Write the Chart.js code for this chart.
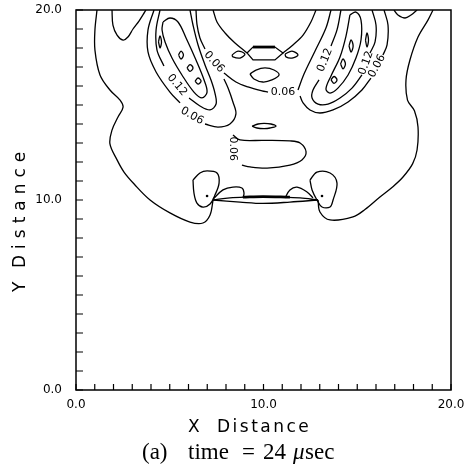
<!DOCTYPE html>
<html>
<head>
<meta charset="utf-8">
<script src="https://cdn.jsdelivr.net/npm/chart.js@4.4.1/dist/chart.umd.min.js"></script>
<style>
  body { margin: 0; background: #fff; }
  canvas { display: block; }
</style>
</head>
<body>
<canvas id="contourChart" width="465" height="476"></canvas>
<script>
// Contour lines, in (x, y) distance units
const outerLeft = [[1.12,20],[1.01,18.95],[1.01,17.89],[1.28,16.58],[1.81,15.79],[2.35,15.26],[2.51,14.89],[2.24,14.37],[1.92,13.68],[1.81,12.95],[2.19,12.11],[2.56,11.47],[3.1,10.84],[3.95,10.0],[5.01,9.32],[6.08,8.84],[6.77,8.79],[7.15,9.21],[7.31,10.0]];
const outerRight = [[12.91,10.0],[13.01,9.37],[13.55,8.95],[14.77,9.11],[15.41,9.5],[16.21,10.16],[16.9,10.7],[17.44,11.21],[17.95,11.9],[18.19,12.63],[18.24,13.84],[18.05,14.7],[17.68,15.26],[17.6,16.32],[17.81,17.37],[18.24,18.58],[18.77,19.47],[19.04,20]];
const lensUpper = [[7.31,10],[8.21,10.11],[9.28,10.16],[9.97,10.18],[10.88,10.16],[11.95,10.11],[12.91,10]];
const lensLower = [[7.31,10],[8.75,9.89],[9.97,9.82],[11.41,9.89],[12.91,10]];
const lensThick = [[8.9,10.15],[9.97,10.18],[11.41,10.15]];
const islandLeft = [[6.24,11.05],[6.61,11.42],[6.99,11.53],[7.52,11.42],[7.63,10.89],[7.41,10.26],[7.15,9.79],[6.77,9.63],[6.45,9.84],[6.29,10.37],[6.24,11.05]];
const capLeft = [[7.31,10.05],[7.84,10.53],[8.37,10.68],[8.85,10.63],[8.96,10.37],[8.91,10.11]];
const islandRight = [[12.48,11.05],[12.85,11.47],[13.55,11.42],[13.92,10.89],[13.71,10.0],[13.55,9.63],[13.12,9.63],[12.85,10.0],[12.59,10.53],[12.48,11.05]];
const capRight = [[11.15,10.11],[11.41,10.53],[11.79,10.68],[12.32,10.42],[12.64,10.11]];
const dots = [[6.99,10.21],[13.12,10.21]];

const bowl06 = [[8.37,13.42],[8.75,13.16],[10.0,13.14],[11.41,13.11],[11.95,13.0],[12.27,12.53],[12.05,12.11],[11.41,11.84],[10.19,11.68],[9.28,11.74],[8.85,11.84]];
const ovalMid = [[9.39,13.89],[9.71,14.0],[10.03,14.03],[10.4,14.0],[10.67,13.89],[10.35,13.79],[10.03,13.76],[9.65,13.79],[9.39,13.89]];
const ovalTop = [[9.28,16.63],[9.6,16.84],[10.08,16.95],[10.56,16.84],[10.83,16.58],[10.45,16.32],[9.97,16.21],[9.49,16.37],[9.28,16.63]];
const uLeft = [[7.31,20],[7.52,19.37],[7.95,18.79],[8.48,18.26],[9.12,17.74]];
const uRight = [[11.04,17.74],[11.57,18.16],[12.11,18.68],[12.53,19.37],[12.8,20]];
const hexagon = [[9.12,17.74],[9.44,18.05],[10.61,18.05],[11.04,17.74],[10.61,17.37],[9.44,17.37],[9.12,17.74]];
const hexTop = [[9.44,18.05],[10.61,18.05]];
const loopLeft = [[8.32,17.63],[8.64,17.84],[9.01,17.68],[8.75,17.47],[8.37,17.53],[8.32,17.63]];
const loopRight = [[11.15,17.68],[11.52,17.84],[11.84,17.63],[11.52,17.47],[11.2,17.53],[11.15,17.68]];
const bumpLeft = [[1.92,20],[1.97,19.21],[2.19,18.68],[2.51,18.42],[2.77,18.58],[3.04,19.0],[3.36,19.42],[3.57,19.74],[3.73,20]];
const bumpRight = [[16.96,20],[17.17,19.74],[17.55,19.58],[17.87,19.74],[18.19,20]];

const center06 = [
  [[6.4,20],[6.45,19.26],[6.61,18.53],[6.88,17.95]],
  [[7.89,16.68],[8.53,16.21],[9.17,15.95],[9.92,15.74],[10.24,15.68]],
  [[11.84,15.79],[12.16,16.63],[12.75,17.84],[13.33,19.05],[13.6,20]]
];

// left lobe
const lobeLeft06 = [
  [[4.16,20],[3.84,18.95],[3.84,17.79],[4.27,16.74],[5.01,15.68],[5.55,15.11]],
  [[6.88,14.0],[7.57,13.84],[8.21,14.0],[8.53,14.53],[8.37,15.16],[8.11,15.89],[7.89,16.37]]
];
const lobeLeft12 = [
  [[4.48,20],[4.27,18.95],[4.32,17.89],[4.69,17.05]],
  [[6.03,15.37],[6.61,14.95],[7.15,14.74],[7.47,15.05],[7.41,15.63],[7.2,16.32],[6.88,17.11],[6.51,18.16],[6.24,19.21],[6.08,20]]
];
const lobeLeftInner = [[4.64,19.37],[5.01,19.58],[5.44,19.37],[5.87,18.53],[6.4,17.37],[6.83,16.32],[6.99,15.68],[6.72,15.37],[6.29,15.68],[5.65,16.58],[5.12,17.47],[4.75,18.32],[4.59,18.95],[4.64,19.37]];
const ovalsLeft = [
  [[4.40,18.32],[4.48,18.64],[4.56,18.32],[4.48,18.0],[4.40,18.32]],
  [[5.47,17.63],[5.6,17.84],[5.73,17.63],[5.6,17.42],[5.47,17.63]],
  [[5.92,16.95],[6.08,17.13],[6.24,16.95],[6.08,16.77],[5.92,16.95]],
  [[6.35,16.26],[6.51,16.42],[6.67,16.26],[6.51,16.1],[6.35,16.26]]
];

// right lobe
const lobeRight06 = [
  [[16.43,20],[16.64,19.21],[16.59,18.16],[16.37,17.63]],
  [[15.73,16.42],[15.25,15.79],[14.51,15.16],[13.71,14.74],[13.01,14.58],[12.48,14.74],[12.11,15.11],[11.95,15.47]]
];
const lobeRight12 = [
  [[15.79,20],[16.0,19.21],[15.95,18.32],[15.68,17.74]],
  [[15.25,16.58],[14.72,15.89],[14.08,15.37],[13.44,15.05],[12.91,15.05],[12.59,15.37],[12.64,15.79],[12.96,16.32]],
  [[13.6,18.11],[13.92,18.95],[14.13,20]]
];
const lobeRightInner = [[14.61,19.74],[14.93,19.89],[15.2,19.47],[15.2,18.42],[14.93,17.47],[14.51,16.58],[13.97,15.89],[13.55,15.63],[13.33,15.84],[13.6,16.53],[14.08,17.53],[14.4,18.63],[14.61,19.74]];
const ovalsRight = [
  [[13.6,16.32],[13.76,16.5],[13.92,16.32],[13.76,16.14],[13.6,16.32]],
  [[14.11,17.16],[14.24,17.42],[14.37,17.16],[14.24,16.9],[14.11,17.16]],
  [[14.56,18.11],[14.67,18.43],[14.78,18.11],[14.67,17.79],[14.56,18.11]],
  [[15.44,18.42],[15.52,18.79],[15.6,18.42],[15.52,18.05],[15.44,18.42]]
];

// contour level labels
const labelText = ['0.06', '0.12', '0.06', '0.06', '0.06', '0.06', '0.12', '0.12'];
const labelX = [6.19, 5.39, 7.36, 11.04, 8.37, 16.05, 15.47, 13.28];
const labelY = [14.42, 16.05, 17.26, 15.68, 12.7, 17.05, 17.21, 17.37];
const labelAngle = [30, 50, 48, 0, 90, -62, -70, -68];

const tickLabels = [0, 10, 20];

function lineSet(points, width, tension) {
  return {
    data: points.map(p => ({ x: p[0], y: p[1] })),
    showLine: true,
    borderColor: '#000',
    borderWidth: width || 1.3,
    pointRadius: 0,
    tension: tension === undefined ? 0.35 : tension,
    fill: false
  };
}

const thinLines = [outerLeft, outerRight, lensUpper, lensLower, islandLeft, capLeft, islandRight, capRight,
  bowl06, ovalMid, ovalTop, uLeft, uRight, loopLeft, loopRight, bumpLeft, bumpRight,
  lobeLeftInner, lobeRightInner]
  .concat(center06, lobeLeft06, lobeLeft12, ovalsLeft, lobeRight06, lobeRight12, ovalsRight);

const datasets = thinLines.map(p => lineSet(p));
datasets.push(lineSet(hexagon, 1.3, 0));
datasets.push(lineSet(hexTop, 2.8, 0));
datasets.push(lineSet(lensThick, 2.8));
datasets.push({
  data: dots.map(p => ({ x: p[0], y: p[1] })),
  pointRadius: 1.3,
  pointBackgroundColor: '#000',
  pointBorderWidth: 0,
  showLine: false
});

// box, inward ticks, contour labels and titles
const decor = {
  id: 'decor',
  afterDatasetsDraw(chart) {
    const { ctx, chartArea: a, scales: { x, y } } = chart;
    ctx.save();
    ctx.strokeStyle = '#000';
    ctx.lineWidth = 1.5;
    ctx.strokeRect(a.left, a.top, a.right - a.left, a.bottom - a.top);

    ctx.lineWidth = 1.2;
    ctx.beginPath();
    x.ticks.forEach(t => {
      const p = x.getPixelForValue(t.value);
      ctx.moveTo(p, a.bottom);
      ctx.lineTo(p, a.bottom - 6);
    });
    y.ticks.forEach(t => {
      const p = y.getPixelForValue(t.value);
      ctx.moveTo(a.left, p);
      ctx.lineTo(a.left + 7, p);
    });
    ctx.stroke();

    ctx.fillStyle = '#000';
    ctx.font = '11px "DejaVu Sans"';
    ctx.textAlign = 'center';
    ctx.textBaseline = 'middle';
    labelText.forEach((s, i) => {
      ctx.save();
      ctx.translate(x.getPixelForValue(labelX[i]), y.getPixelForValue(labelY[i]));
      ctx.rotate(labelAngle[i] * Math.PI / 180);
      ctx.fillText(s, 0, 0);
      ctx.restore();
    });

    ctx.textAlign = 'left';
    ctx.textBaseline = 'alphabetic';
    ctx.font = '17px "DejaVu Sans"';
    ctx.letterSpacing = '2.5px';
    ctx.fillText('X', 188, 432);
    ctx.fillText('Distance', 217, 432);

    ctx.save();
    ctx.translate(25, 292);
    ctx.rotate(-Math.PI / 2);
    ctx.letterSpacing = '6px';
    ctx.fillText('Y', 0, 0);
    ctx.fillText('Distance', 24, 0);
    ctx.restore();

    ctx.letterSpacing = '0px';
    ctx.font = '23px "Liberation Serif"';
    ctx.fillText('(a)', 142, 459);
    ctx.fillText('time', 188, 459);
    ctx.fillText('=', 242, 459);
    ctx.fillText('24', 263, 459);
    ctx.font = 'italic 23px "Liberation Serif"';
    ctx.fillText('\u03bc', 293, 459);
    ctx.font = '23px "Liberation Serif"';
    ctx.fillText('sec', 305, 459);
    ctx.restore();
  }
};

const tickFont = { family: '"DejaVu Sans"', size: 12 };
const showTick = v => tickLabels.includes(v) ? v.toFixed(1) : '';

new Chart(document.getElementById('contourChart').getContext('2d'), {
  type: 'scatter',
  data: { datasets: datasets },
  options: {
    responsive: false,
    animation: false,
    devicePixelRatio: 1,
    events: [],
    layout: { padding: { top: 10, right: 14, bottom: 0, left: 0 } },
    plugins: { legend: { display: false }, tooltip: { enabled: false } },
    scales: {
      x: {
        type: 'linear', position: 'bottom', min: 0, max: 20,
        grid: { display: false, drawTicks: false, tickLength: 0 },
        border: { display: false },
        ticks: { stepSize: 1, autoSkip: false, maxRotation: 0, padding: 8, color: '#000', font: tickFont, callback: showTick },
        afterFit: s => { s.height = 86; s.paddingLeft = 0; s.paddingRight = 0; }
      },
      y: {
        type: 'linear', position: 'left', min: 0, max: 20,
        grid: { display: false, drawTicks: false, tickLength: 0 },
        border: { display: false },
        ticks: { stepSize: 1, autoSkip: false, padding: 14, color: '#000', font: tickFont, callback: showTick },
        afterFit: s => { s.width = 76; s.paddingTop = 0; s.paddingBottom = 0; }
      }
    }
  },
  plugins: [decor]
});
</script>
</body>
</html>
